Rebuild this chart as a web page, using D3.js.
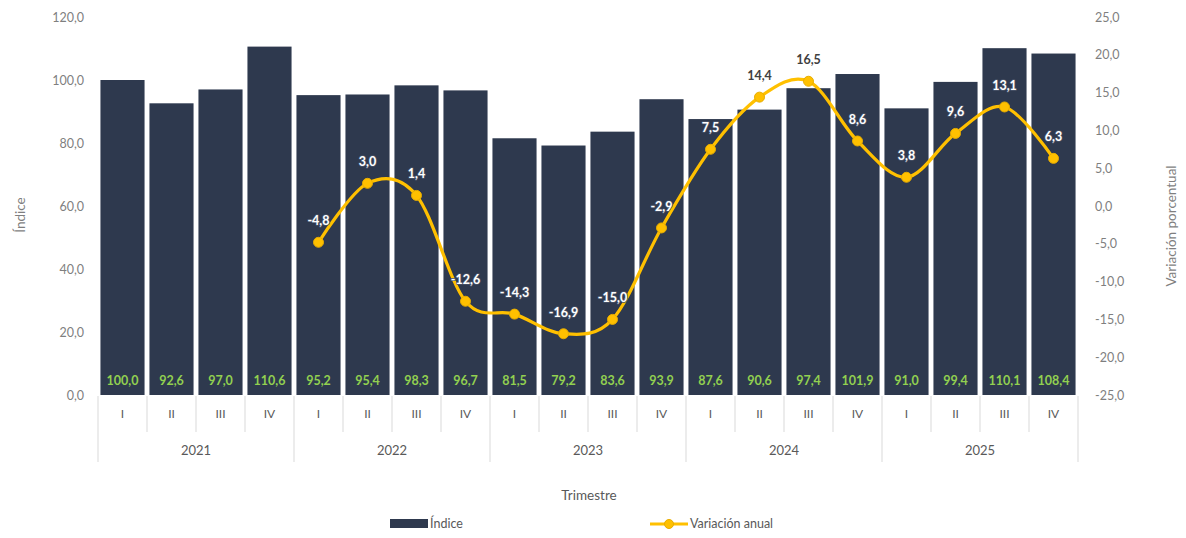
<!DOCTYPE html>
<html><head><meta charset="utf-8">
<script src="https://cdn.jsdelivr.net/npm/d3@7/dist/d3.min.js"></script>
<style>
html,body{margin:0;padding:0;background:#fff;}
svg{display:block;font-family:Lato,"Open Sans",sans-serif;}
</style></head>
<body>
<svg id="chart" width="1186" height="538"></svg>
<script>
const years = ["2021","2022","2023","2024","2025"];
const quarters = ["I","II","III","IV"];
const indice = [100.0,92.6,97.0,110.6, 95.2,95.4,98.3,96.7, 81.5,79.2,83.6,93.9, 87.6,90.6,97.4,101.9, 91.0,99.4,110.1,108.4];
// annual variation starts in 2022 I
const variacion = [null,null,null,null, -4.8,3.0,1.4,-12.6, -14.3,-16.9,-15.0,-2.9, 7.5,14.4,16.5,8.6, 3.8,9.6,13.1,6.3];
const leftTicks = [0,20,40,60,80,100,120];
const rightTicks = [-25,-20,-15,-10,-5,0,5,10,15,20,25];

const barColor = "#2e394e", lineColor = "#ffc000", labelGreen = "#92d050", textGray = "#595959", sepColor = "#d9d9d9";
const fmt = v => d3.format(".1f")(v).replace(".", ",").replace("−","-");

const svg = d3.select("#chart");
const cats = d3.range(indice.length);
const x = d3.scaleBand().domain(cats).range([98,1078]).paddingInner(0.1).paddingOuter(0.05);
const yL = d3.scaleLinear().domain([0,120]).range([395,17]);
const yR = d3.scaleLinear().domain([-25,25]).range([395,17]);

// left axis
const gL = svg.append("g").attr("transform","translate(84,0)")
  .call(d3.axisLeft(yL).tickValues(leftTicks).tickFormat(fmt).tickSize(0).tickPadding(0));
gL.select(".domain").remove();
gL.selectAll("text").attr("fill","#7f7f7f").style("font-size","12.5px").style("font-family","Lato,sans-serif");

// right axis
const gR = svg.append("g").attr("transform","translate(1095,0)")
  .call(d3.axisRight(yR).tickValues(rightTicks).tickFormat(fmt).tickSize(0).tickPadding(0));
gR.select(".domain").remove();
gR.selectAll("text").attr("fill","#7f7f7f").style("font-size","12.5px").style("font-family","Lato,sans-serif");

// bars
svg.append("g").selectAll("rect").data(indice).join("rect")
  .attr("x",(d,i)=>x(i)).attr("width",x.bandwidth())
  .attr("y",d=>yL(d)).attr("height",d=>yL(0)-yL(d)).attr("fill",barColor);

// bar labels
svg.append("g").selectAll("text").data(indice).join("text")
  .attr("x",(d,i)=>x(i)+x.bandwidth()/2).attr("y",yL(0)-10)
  .attr("text-anchor","middle").attr("fill",labelGreen)
  .style("font-size","12.5px").style("font-weight","bold").text(d=>fmt(d));

// category separators
const step = x.step();
const x0 = 98;
for (let i=0;i<=indice.length;i++){
  const xx = x0 + i*step;
  const isYear = i%4===0;
  svg.append("line").attr("x1",xx).attr("x2",xx).attr("y1",396).attr("y2",isYear?462:432)
    .attr("stroke",sepColor).attr("stroke-width",1);
}
// quarter labels
svg.append("g").selectAll("text").data(cats).join("text")
  .attr("x",i=>x(i)+x.bandwidth()/2).attr("y",418).attr("text-anchor","middle")
  .attr("fill",textGray).style("font-size","12px").text(i=>quarters[i%4]);
// year labels
svg.append("g").selectAll("text").data(years).join("text")
  .attr("x",(d,j)=>x0 + (j*4+2)*step).attr("y",455).attr("text-anchor","middle")
  .attr("fill",textGray).style("font-size","13px").text(d=>d);

// line
const pts = variacion.map((v,i)=>({i,v})).filter(d=>d.v!==null);
const line = d3.line().x(d=>x(d.i)+x.bandwidth()/2).y(d=>yR(d.v)).curve(d3.curveCardinal.tension(0));
svg.append("path").datum(pts).attr("d",line).attr("fill","none").attr("stroke",lineColor).attr("stroke-width",3.2);
svg.append("g").selectAll("circle").data(pts).join("circle")
  .attr("cx",d=>x(d.i)+x.bandwidth()/2).attr("cy",d=>yR(d.v)).attr("r",5)
  .attr("fill",lineColor).attr("stroke","#e8ad00").attr("stroke-width",1);
// line labels
const outside = d => (yR(d.v)-30) < yL(indice[d.i]);
svg.append("g").selectAll("text").data(pts).join("text")
  .attr("x",d=>x(d.i)+x.bandwidth()/2).attr("y",d=>yR(d.v)-17)
  .attr("text-anchor","middle")
  .attr("fill",d=> outside(d) ? "#404040" : "#ffffff")
  .attr("stroke",d=> outside(d) ? "none" : "#4a5468")
  .attr("stroke-width",1.6).attr("paint-order","stroke").attr("stroke-linejoin","round")
  .style("font-size","12.5px").style("font-weight","bold").text(d=>fmt(d.v));

// axis titles
svg.append("text").attr("transform","translate(25,215) rotate(-90)").attr("text-anchor","middle")
  .attr("fill","#7f7f7f").style("font-size","13.5px").text("Índice");
svg.append("text").attr("transform","translate(1176,226) rotate(-90)").attr("text-anchor","middle")
  .attr("fill","#7f7f7f").style("font-size","13.5px").text("Variación porcentual");
svg.append("text").attr("x",589).attr("y",500).attr("text-anchor","middle")
  .attr("fill",textGray).style("font-size","13.5px").text("Trimestre");

// legend
const lg = svg.append("g");
lg.append("rect").attr("x",390).attr("y",519).attr("width",38).attr("height",9).attr("fill",barColor);
lg.append("text").attr("x",430).attr("y",528).attr("fill",textGray).style("font-size","12.5px").text("Índice");
lg.append("line").attr("x1",650).attr("x2",688).attr("y1",524).attr("y2",524).attr("stroke",lineColor).attr("stroke-width",3);
lg.append("circle").attr("cx",669).attr("cy",524).attr("r",4.5).attr("fill",lineColor).attr("stroke","#e8ad00");
lg.append("text").attr("x",690).attr("y",528).attr("fill",textGray).style("font-size","12.5px").text("Variación anual");
</script>
</body></html>
